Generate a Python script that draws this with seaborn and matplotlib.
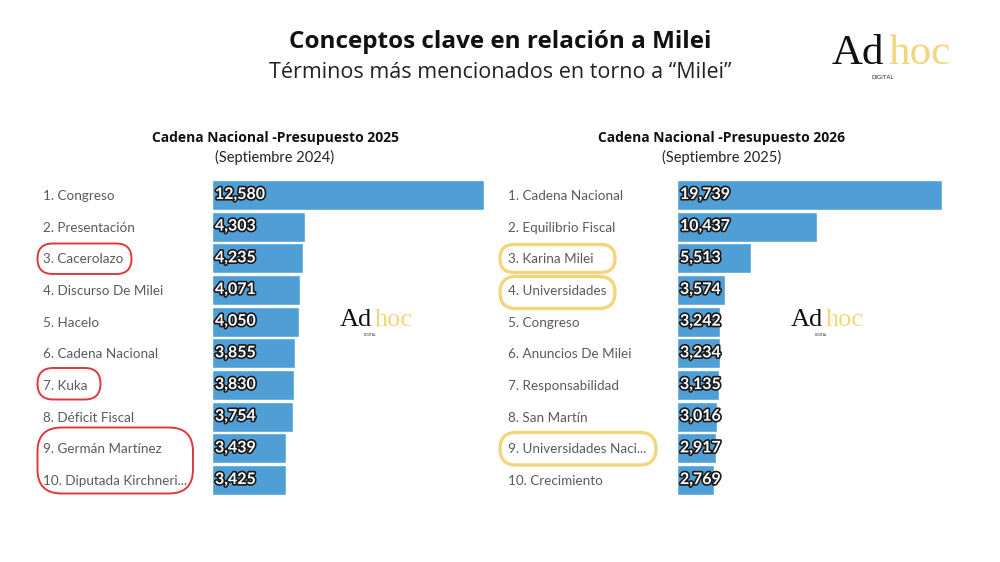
import matplotlib
matplotlib.use("Agg")
import matplotlib.pyplot as plt
import matplotlib.patheffects as pe
from matplotlib.patches import FancyBboxPatch
import seaborn as sns
import pandas as pd

# ---------------- data ----------------
terms_2025 = ["1. Congreso", "2. Presentación", "3. Cacerolazo", "4. Discurso De Milei",
              "5. Hacelo", "6. Cadena Nacional", "7. Kuka", "8. Déficit Fiscal",
              "9. Germán Martínez", "10. Diputada Kirchneri..."]
values_2025 = [12580, 4303, 4235, 4071, 4050, 3855, 3830, 3754, 3439, 3425]

terms_2026 = ["1. Cadena Nacional", "2. Equilibrio Fiscal", "3. Karina Milei",
              "4. Universidades", "5. Congreso", "6. Anuncios De Milei",
              "7. Responsabilidad", "8. San Martín", "9. Universidades Naci...",
              "10. Crecimiento"]
values_2026 = [19739, 10437, 5513, 3574, 3242, 3234, 3135, 3016, 2917, 2769]

title = "Conceptos clave en relación a Milei"
subtitle = "Términos más mencionados en torno a “Milei”"
panel_titles = ["Cadena Nacional -Presupuesto 2025", "Cadena Nacional -Presupuesto 2026"]
panel_subtitles = ["(Septiembre 2024)", "(Septiembre 2025)"]

# ---------------- style ----------------
sns.set_theme(style="white")
plt.rcParams['font.family'] = ['Lato', 'DejaVu Sans']

BAR = "#4f9fd6"
LABEL = "#5a5a5a"
RED = "#e0383a"
YEL = "#f2d67c"

W, H = 1000, 562
fig = plt.figure(figsize=(10, 5.62), dpi=100)
fig.patch.set_facecolor("white")

def fx(px):
    return px / W

def fy(py):
    return 1 - py / H

ax_bottom = fy(495.9)
ax_height = (495.9 - 179.1) / H

panels = [
    (terms_2025, values_2025, 211.5, 483.5, 42.7),
    (terms_2026, values_2026, 676.5, 942.0, 507.7),
]

for terms, vals, x0, x1, lx in panels:
    ax = fig.add_axes([fx(x0), ax_bottom, fx(x1 - x0), ax_height])
    df = pd.DataFrame({"term": terms, "value": vals})
    sns.barplot(data=df, x="value", y="term", orient="h", color=BAR,
                saturation=1, width=0.94, ax=ax)
    ax.set_xlim(0, max(vals))
    ax.set_ylim(9.5, -0.5)
    ax.set_xlabel("")
    ax.set_ylabel("")
    ax.set_xticks([])
    for s in ax.spines.values():
        s.set_visible(False)
    ax.tick_params(axis="y", length=0, pad=(x0 - lx) * 0.72)
    for t in ax.get_yticklabels():
        t.set_ha("left")
        t.set_color(LABEL)
        t.set_fontsize(9.7)
    for i, v in enumerate(vals):
        ax.annotate(f"{v:,}", xy=(0, i), xytext=(2.5, 0), textcoords="offset points",
                    ha="left", va="center", color="white", fontsize=11.5,
                    fontweight="bold",
                    path_effects=[pe.withStroke(linewidth=2.4, foreground="#1a1a1a")])

# ---------------- titles ----------------
fig.text(0.5, fy(42), title, ha="center", va="center", fontsize=17.5,
         fontweight="bold", color="#111111", family=["Open Sans", "DejaVu Sans"])
fig.text(0.5, fy(72), subtitle, ha="center", va="center", fontsize=15.5,
         color="#222222", family=["Open Sans", "DejaVu Sans"])

for cx, t, st in zip([275, 722], panel_titles, panel_subtitles):
    fig.text(fx(cx), fy(138), t, ha="center", va="center", fontsize=10,
             fontweight="bold", color="#111111", family=["Open Sans", "DejaVu Sans"])
    fig.text(fx(cx), fy(157), st, ha="center", va="center", fontsize=10.5,
             color="#222222")

# ---------------- logos ----------------
def logo(x_ad, y_base, size, x_hoc, x_dig, y_dig, dsize):
    fig.text(fx(x_ad), fy(y_base), "Ad", ha="left", va="baseline", fontsize=size,
             color="#111111", family=["Liberation Serif"])
    fig.text(fx(x_hoc), fy(y_base), "hoc", ha="left", va="baseline", fontsize=size,
             color=YEL, family=["Liberation Serif"])
    fig.text(fx(x_dig), fy(y_dig), "DIGITAL", ha="left", va="center", fontsize=dsize,
             color="#222222")

logo(832, 64, 31, 889, 872, 77, 4.2)
logo(340, 326, 19, 375, 364, 335, 2.4)
logo(791, 326, 19, 826, 815, 335, 2.4)

# ---------------- highlight ovals ----------------
def oval(x0, y0, x1, y1, color, lw):
    h = y1 - y0
    box = FancyBboxPatch((x0, H - y1), x1 - x0, h,
                         boxstyle=f"round,pad=0,rounding_size={min(h/2, 24)}",
                         transform=None, fill=False, edgecolor=color, linewidth=lw,
                         zorder=10)
    fig.patches.append(box)

oval(37.5, 243.5, 131.5, 274, RED, 1.4)
oval(37.5, 368, 100.5, 399.5, RED, 1.4)
oval(37.5, 427.5, 193, 493.5, RED, 1.4)
oval(500, 244.5, 615, 272.5, YEL, 2.4)
oval(500, 276.5, 615, 308.5, YEL, 2.4)
oval(500, 432.5, 656, 465, YEL, 2.4)

fig.savefig("out.png", dpi=100, facecolor="white")
